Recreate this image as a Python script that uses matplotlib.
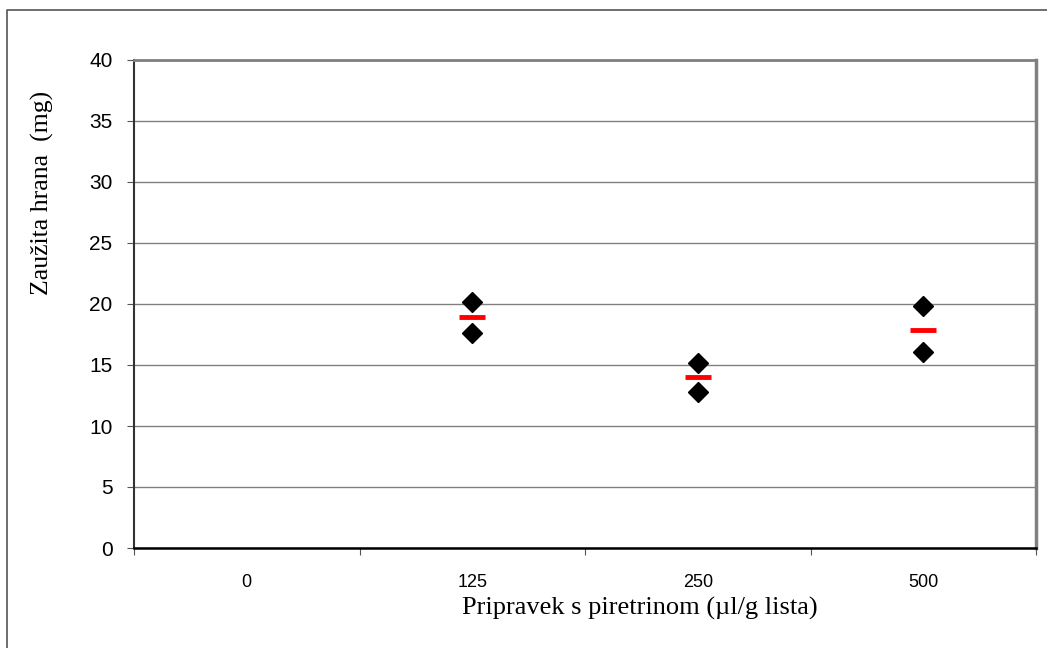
import matplotlib.pyplot as plt
from matplotlib.lines import Line2D
import numpy as np

# categories (dose of pyrethrin preparation)
categories = ['0', '125', '250', '500']
# individual measurements per category (empty for 0)
replicate_1 = [None, 20.2, 15.2, 19.8]
replicate_2 = [None, 17.6, 12.8, 16.1]
# means
means = [None, 18.9, 14.0, 17.9]
y_ticks = [0, 5, 10, 15, 20, 25, 30, 35, 40]

W, H = 1047, 648
fig = plt.figure(figsize=(W / 100, H / 100), dpi=100)
ax = fig.add_axes([134 / W, 1 - 548 / H, (1036 - 134) / W, (548 - 60) / H])

# outer chart border (only top and left edges visible)
fig.lines.append(Line2D([7 / W, 7 / W, 1], [0, 1 - 10 / H, 1 - 10 / H],
                        transform=fig.transFigure, color='#555555', linewidth=1.2))

x = np.arange(len(categories)) + 0.5
for reps in (replicate_1, replicate_2):
    xs = [xi for xi, v in zip(x, reps) if v is not None]
    ys = [v for v in reps if v is not None]
    ax.plot(xs, ys, linestyle='none', marker='D', markersize=10,
            color='black', zorder=3)

mx = [xi for xi, v in zip(x, means) if v is not None]
my = [v for v in means if v is not None]
ax.plot(mx, my, linestyle='none', marker='_', markersize=19,
        markeredgewidth=3.5, color='#ff0000', zorder=3)

ax.set_xlim(0, len(categories))
ax.set_ylim(0, 40)
ax.set_yticks(y_ticks)
ax.set_yticklabels([str(t) for t in y_ticks], fontsize=15, family='Liberation Sans')
ax.yaxis.grid(True, color='#808080', linewidth=1)
ax.set_axisbelow(True)

# category ticks at boundaries, labels centered
ax.set_xticks(np.arange(len(categories) + 1))
ax.set_xticklabels([])
ax.set_xticks(x, minor=True)
ax.set_xticklabels(categories, minor=True, fontsize=13, family='Liberation Sans')
ax.tick_params(axis='x', which='minor', length=0, pad=19)
ax.tick_params(axis='x', which='major', length=5, direction='out', color='#555555')
ax.tick_params(axis='y', length=5, direction='out', color='#555555', pad=10.5)

ax.spines['top'].set_color('#808080')
ax.spines['top'].set_linewidth(2)
ax.spines['right'].set_color('#808080')
ax.spines['right'].set_linewidth(2.5)
ax.spines['left'].set_color('#333333')
ax.spines['left'].set_linewidth(1.5)
ax.spines['bottom'].set_color('black')
ax.spines['bottom'].set_linewidth(1.8)

fig.text(640 / W, 1 - 608 / H, 'Pripravek s piretrinom (µl/g lista)',
         ha='center', va='center', fontsize=19, family='Liberation Serif')
fig.text(42 / W, 1 - 193 / H, 'Zaužita hrana  (mg)', rotation=90,
         ha='center', va='center', fontsize=18.5, family='Liberation Serif')

fig.savefig('out.png', dpi=100)
